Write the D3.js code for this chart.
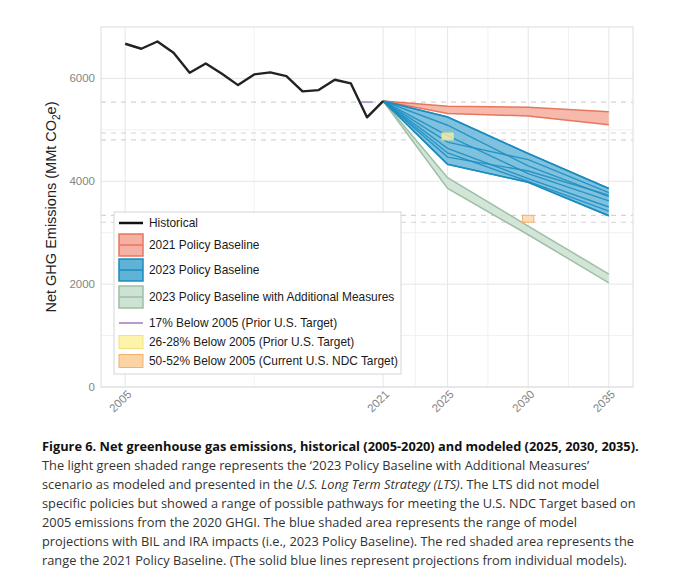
<!DOCTYPE html>
<html><head><meta charset="utf-8">
<script src="https://cdn.jsdelivr.net/npm/d3@7"></script>
<style>body{margin:0;background:#fff}svg{display:block}</style>
</head><body>
<script>
// ---- data ----
const histYears = [2005,2006,2007,2008,2009,2010,2011,2012,2013,2014,2015,2016,2017,2018,2019,2020,2021];
const histValues = [6674,6577,6718,6499,6111,6291,6091,5870,6078,6117,6045,5748,5773,5975,5903,5243,5560];
const projYears = [2021,2025,2030,2035];
const base2021Upper = [5560,5460,5440,5350];
const base2021Lower = [5560,5320,5270,5100];
const models2023 = [
  [5560,5250,4540,3860],
  [5560,5090,4300,3700],
  [5560,4890,4150,3620],
  [5560,4760,4420,3780],
  [5560,4640,4050,3500],
  [5560,4470,4200,3730],
  [5560,4330,3980,3330],
  [5560,4550,4000,3420]
];
const addUpper = [5560,4070,3130,2195];
const addLower = [5560,3860,2960,2025];
const base2005 = 6674;
const target17 = {year:2020, pct:[0.17]};
const target2628 = {year:2025, pct:[0.26,0.28]};
const target5052 = {year:2030, pct:[0.50,0.52]};
const xTicks = [2005,2021,2025,2030,2035];
const xMinor = [2013,2023,2027.5,2032.5];
const yTicks = [0,2000,4000,6000];
const yMinor = [1000,3000,5000];
const legendItems = ["Historical","2021 Policy Baseline","2023 Policy Baseline","2023 Policy Baseline with Additional Measures","17% Below 2005 (Prior U.S. Target)","26-28% Below 2005 (Prior U.S. Target)","50-52% Below 2005 (Current U.S. NDC Target)"];
const captionLines = [
  [{t:"Figure 6. Net greenhouse gas emissions, historical (2005-2020) and modeled (2025, 2030, 2035).",b:true}],
  [{t:"The light green shaded range represents the \u20182023 Policy Baseline with Additional Measures\u2019"}],
  [{t:"scenario as modeled and presented in the "},{t:"U.S. Long Term Strategy (LTS)",i:true},{t:". The LTS did not model"}],
  [{t:"specific policies but showed a range of possible pathways for meeting the U.S. NDC Target based on"}],
  [{t:"2005 emissions from the 2020 GHGI. The blue shaded area represents the range of model"}],
  [{t:"projections with BIL and IRA impacts (i.e., 2023 Policy Baseline). The red shaded area represents the"}],
  [{t:"range the 2021 Policy Baseline. (The solid blue lines represent projections from individual models)."}]
];

// ---- layout ----
const W=680,H=575;
const P={l:101,r:633,t:27,b:387};
const svg=d3.select("body").append("svg").attr("width",W).attr("height",H);
const x=d3.scaleLinear().domain([2003.5,2036.5]).range([P.l,P.r]);
const y=d3.scaleLinear().domain([0,7000]).range([P.b,P.t]);

const col={red:"#e8765e",redF:"#f5b1a3",blue:"#1a8cbf",blueF:"#5fb3d7",green:"#9dbfa7",greenF:"#cde2d2",
  purple:"#b89ad0",yellow:"#f3e27a",yellowF:"#fdf3ab",orange:"#f6b06c",orangeF:"#fcd3a4"};

// grid
const g=svg.append("g");
g.selectAll(".ymin").data(yMinor).join("line").attr("x1",P.l).attr("x2",P.r).attr("y1",d=>y(d)).attr("y2",d=>y(d)).attr("stroke","#f1f1f1");
g.selectAll(".xmin").data(xMinor).join("line").attr("y1",P.t).attr("y2",P.b).attr("x1",d=>x(d)).attr("x2",d=>x(d)).attr("stroke","#f1f1f1");
g.selectAll(".ymaj").data(yTicks).join("line").attr("x1",P.l).attr("x2",P.r).attr("y1",d=>y(d)).attr("y2",d=>y(d)).attr("stroke","#e6e6e6");
g.selectAll(".xmaj").data(xTicks).join("line").attr("y1",P.t).attr("y2",P.b).attr("x1",d=>x(d)).attr("x2",d=>x(d)).attr("stroke","#e6e6e6");

// dashed target reference lines
const dashVals=[...target17.pct,...target2628.pct,...target5052.pct].map(p=>base2005*(1-p));
g.selectAll(".dash").data(dashVals).join("line").attr("x1",P.l).attr("x2",P.r).attr("y1",d=>y(d)).attr("y2",d=>y(d))
  .attr("stroke","#d4d4d4").attr("stroke-width",1.2).attr("stroke-dasharray","5,5");

// panel border
svg.append("rect").attr("x",P.l).attr("y",P.t).attr("width",P.r-P.l).attr("height",P.b-P.t).attr("fill","none").attr("stroke","#dcdcdc");

const line=d3.line().x(d=>x(d[0])).y(d=>y(d[1]));
const area=d3.area().x(d=>x(d[0])).y0(d=>y(d[1])).y1(d=>y(d[2]));

// green band
const greenPts=projYears.map((yr,i)=>[yr,addLower[i],addUpper[i]]);
svg.append("path").attr("d",area(greenPts)).attr("fill",col.greenF).attr("opacity",0.9);
[addUpper,addLower].forEach(s=>svg.append("path").attr("d",line(projYears.map((yr,i)=>[yr,s[i]]))).attr("fill","none").attr("stroke",col.green).attr("stroke-width",1.5));

// red band
const redPts=projYears.map((yr,i)=>[yr,base2021Lower[i],base2021Upper[i]]);
svg.append("path").attr("d",area(redPts)).attr("fill",col.redF).attr("opacity",0.9);
[base2021Upper,base2021Lower].forEach(s=>svg.append("path").attr("d",line(projYears.map((yr,i)=>[yr,s[i]]))).attr("fill","none").attr("stroke",col.red).attr("stroke-width",1.5));

// blue band
const bluePts=projYears.map((yr,i)=>[yr,d3.min(models2023,m=>m[i]),d3.max(models2023,m=>m[i])]);
svg.append("path").attr("d",area(bluePts)).attr("fill",col.blueF).attr("opacity",0.8);
models2023.forEach(m=>svg.append("path").attr("d",line(projYears.map((yr,i)=>[yr,m[i]]))).attr("fill","none").attr("stroke",col.blue).attr("stroke-width",1.4).attr("opacity",0.85));
svg.append("path").attr("d",line(bluePts.map(d=>[d[0],d[1]]))).attr("fill","none").attr("stroke",col.blue).attr("stroke-width",1.6);
svg.append("path").attr("d",line(bluePts.map(d=>[d[0],d[2]]))).attr("fill","none").attr("stroke",col.blue).attr("stroke-width",1.6);

// targets
svg.append("line").attr("x1",x(target17.year-0.35)).attr("x2",x(target17.year+0.35))
  .attr("y1",y(base2005*(1-target17.pct[0]))).attr("y2",y(base2005*(1-target17.pct[0]))).attr("stroke",col.purple).attr("stroke-width",2);
[[target2628,col.yellowF,col.yellow],[target5052,col.orangeF,col.orange]].forEach(([t,f,s])=>{
  const v0=base2005*(1-t.pct[1]), v1=base2005*(1-t.pct[0]);
  svg.append("rect").attr("x",x(t.year-0.35)).attr("width",x(t.year+0.35)-x(t.year-0.35))
    .attr("y",y(v1)).attr("height",y(v0)-y(v1)).attr("fill",f).attr("fill-opacity",0.75).attr("stroke",s).attr("stroke-width",1);
});

// historical
svg.append("path").attr("d",line(histYears.map((yr,i)=>[yr,histValues[i]]))).attr("fill","none").attr("stroke","#222").attr("stroke-width",2.4).attr("stroke-linejoin","round");

// axes text
const axF="Liberation Sans, Arial, sans-serif";
svg.selectAll(".yt").data(yTicks).join("text").attr("x",P.l-6).attr("y",d=>y(d)+4).attr("text-anchor","end")
  .attr("font-family",axF).attr("font-size",11.5).attr("fill","#858585").text(d=>d);
svg.selectAll(".xt").data(xTicks).join("text").attr("text-anchor","end")
  .attr("transform",d=>`translate(${x(d)+7},${P.b+8}) rotate(-45)`)
  .attr("font-family",axF).attr("font-size",11.5).attr("fill","#858585").text(d=>d);
const yt=svg.append("text").attr("transform",`translate(56,${(P.t+P.b)/2}) rotate(-90)`).attr("text-anchor","middle")
  .attr("font-family",axF).attr("font-size",14.5).attr("fill","#222");
yt.append("tspan").text("Net GHG Emissions (MMt CO");
yt.append("tspan").text("2").attr("font-size",10).attr("dy",4);
yt.append("tspan").text("e)").attr("dy",-4);

// legend
const L=svg.append("g");
L.append("rect").attr("x",114).attr("y",212).attr("width",287).attr("height",162).attr("fill","#fff").attr("stroke","#d6d6d6");
const rowY=[223,245,270,297,323,342,361];
const kx=119,kw=24;
legendItems.forEach((t,i)=>{
  L.append("text").attr("x",149).attr("y",rowY[i]+4).attr("font-family",axF).attr("font-size",11.9).attr("fill","#1a1a1a").text(t);
});
L.append("line").attr("x1",kx).attr("x2",kx+kw).attr("y1",rowY[0]).attr("y2",rowY[0]).attr("stroke","#111").attr("stroke-width",2.5);
[[1,col.redF,col.red],[2,col.blueF,col.blue],[3,col.greenF,col.green]].forEach(([i,f,s])=>{
  const cy=rowY[i];
  L.append("rect").attr("x",kx).attr("y",cy-11).attr("width",kw).attr("height",22).attr("fill",f).attr("stroke",s).attr("stroke-width",1.5);
  L.append("line").attr("x1",kx).attr("x2",kx+kw).attr("y1",cy).attr("y2",cy).attr("stroke",s).attr("stroke-width",1.5);
});
L.append("line").attr("x1",kx).attr("x2",kx+kw).attr("y1",rowY[4]).attr("y2",rowY[4]).attr("stroke",col.purple).attr("stroke-width",2);
[[5,col.yellowF,col.yellow],[6,col.orangeF,col.orange]].forEach(([i,f,s])=>{
  L.append("rect").attr("x",kx).attr("y",rowY[i]-6.5).attr("width",kw).attr("height",13).attr("fill",f).attr("stroke",s).attr("stroke-width",1);
});

// caption
const cF="Open Sans, Noto Sans, sans-serif";
captionLines.forEach((ln,i)=>{
  const t=svg.append("text").attr("x",42).attr("y",451+i*19).attr("font-family",cF).attr("font-size",12.8).attr("fill",i===0?"#111":"#333");
  ln.forEach(s=>t.append("tspan").text(s.t).attr("font-weight",s.b?"bold":null).attr("font-style",s.i?"italic":null));
});
</script>
</body></html>
